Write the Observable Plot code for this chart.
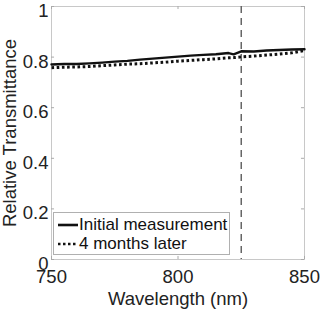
<!DOCTYPE html>
<html><head><meta charset="utf-8">
<script src="https://cdn.jsdelivr.net/npm/d3@7"></script>
<script src="https://cdn.jsdelivr.net/npm/@observablehq/plot@0.6"></script>
<style>
html,body{margin:0;padding:0;background:#fff;}
#wrap{position:relative;width:320px;height:314px;font-family:"Liberation Sans",Arial,sans-serif;}
#legend{position:absolute;left:53px;top:212px;width:177px;height:43px;border:1px solid #b0b0b0;background:#fff;box-sizing:border-box;font-size:17px;color:#111;padding-top:2px;}
#legend .row{display:flex;align-items:center;height:19px;white-space:nowrap;}
#legend svg{margin-left:4px;margin-right:1px;}
</style></head>
<body><div id="wrap"></div>
<script>
const wavelengths = [750,755,760,765,770,775,780,785,790,795,800,805,810,815,820,822,825,830,835,840,845,850];
const initial     = [0.771,0.773,0.773,0.775,0.778,0.782,0.785,0.790,0.794,0.798,0.802,0.806,0.809,0.811,0.816,0.811,0.823,0.822,0.826,0.828,0.830,0.831];
const later       = [0.758,0.760,0.761,0.763,0.766,0.769,0.772,0.774,0.777,0.780,0.784,0.787,0.790,0.793,0.797,0.798,0.801,0.804,0.808,0.812,0.817,0.826];
const seriesNames = ["Initial measurement","4 months later"];
const xTicks = [750,800,850];
const yTicks = [0,0.2,0.4,0.6,0.8,1];
const markerLine = 825;

const rows = [];
wavelengths.forEach((w,i)=>{rows.push({w,v:initial[i],s:seriesNames[0]});rows.push({w,v:later[i],s:seriesNames[1]});});

const chart = Plot.plot({
  width:320,height:314,
  marginLeft:51,marginRight:16,marginTop:6,marginBottom:55,
  style:{fontFamily:"Liberation Sans, Arial, sans-serif",fontSize:"18px",color:"#222",background:"#fff"},
  x:{domain:[750,850],ticks:xTicks,label:null},
  y:{domain:[0,1],ticks:yTicks,label:null},
  marks:[
    Plot.frame({stroke:"#c8c8c8"}),
    Plot.ruleX(xTicks,{y1:0,y2:0.012,stroke:"#aaa"}),
    Plot.ruleX(xTicks,{y1:1,y2:0.988,stroke:"#aaa"}),
    Plot.ruleY(yTicks,{x1:750,x2:751.2,stroke:"#aaa"}),
    Plot.ruleY(yTicks,{x1:850,x2:848.8,stroke:"#aaa"}),
    Plot.axisX(xTicks,{tickSize:0,tickPadding:10,fontSize:18.5,fill:"#222",tickFormat:d=>String(d)}),
    Plot.axisY(yTicks,{tickSize:0,tickPadding:3,dy:4.5,fontSize:18.5,fill:"#222",tickFormat:d=>String(d)}),
    Plot.ruleX([markerLine],{stroke:"#666",strokeWidth:1.5,strokeDasharray:"7,5"}),
    Plot.line(rows.filter(d=>d.s===seriesNames[1]),{x:"w",y:"v",stroke:"#111",strokeWidth:3,strokeLinecap:"butt",strokeDasharray:"2.6,2.6"}),
    Plot.line(rows.filter(d=>d.s===seriesNames[0]),{x:"w",y:"v",stroke:"#111",strokeWidth:2.4}),
    Plot.text(["Wavelength (nm)"],{frameAnchor:"bottom",dy:45,fontSize:18.5,fill:"#222"}),
    Plot.text(["Relative Transmittance"],{frameAnchor:"left",dx:-41,rotate:-90,textAnchor:"middle",fontSize:18.5,fill:"#222"})
  ]
});
const wrap=document.getElementById("wrap");
wrap.appendChild(chart);
const lg=document.createElement("div");lg.id="legend";
lg.innerHTML=`<div class="row"><svg width="20" height="4"><line x1="0" y1="2" x2="20" y2="2" stroke="#111" stroke-width="2.6"/></svg>${seriesNames[0]}</div>
<div class="row"><svg width="20" height="4"><line x1="0" y1="2" x2="20" y2="2" stroke="#111" stroke-width="2.6" stroke-dasharray="2.5,2.5"/></svg>${seriesNames[1]}</div>`;
wrap.appendChild(lg);
</script></body></html>
